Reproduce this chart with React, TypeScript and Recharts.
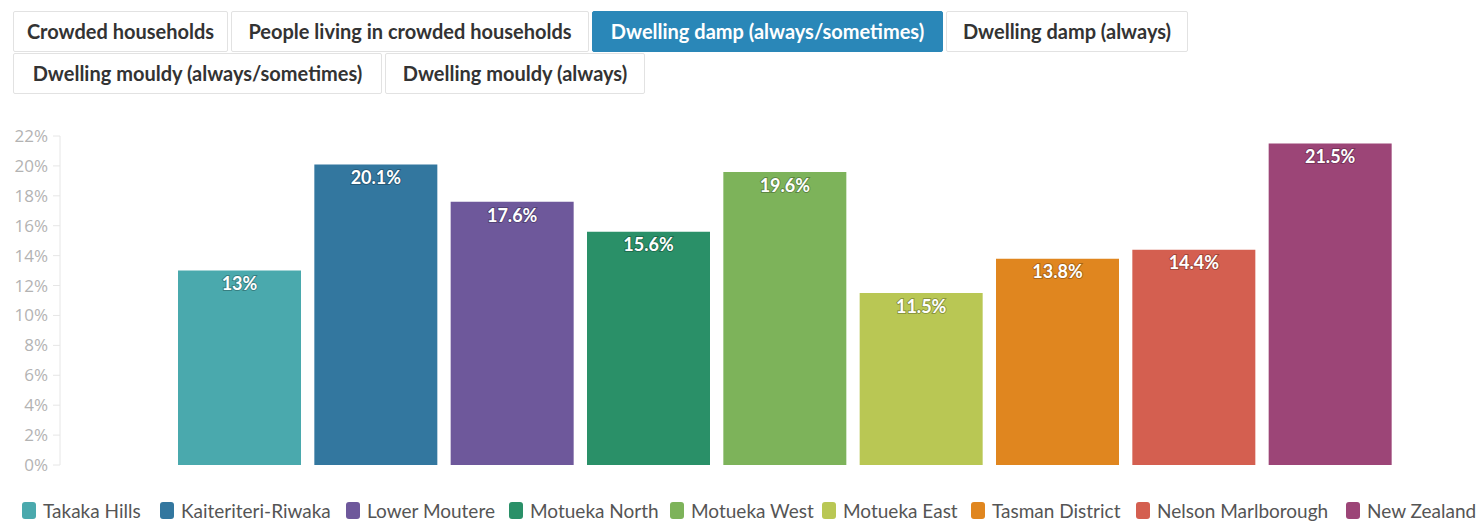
import React from 'react';
import { BarChart, Bar, XAxis, YAxis, Cell, LabelList } from 'recharts';

const areas = [
  'Takaka Hills',
  'Kaiteriteri-Riwaka',
  'Lower Moutere',
  'Motueka North',
  'Motueka West',
  'Motueka East',
  'Tasman District',
  'Nelson Marlborough',
  'New Zealand',
];
const dampShare = [13, 20.1, 17.6, 15.6, 19.6, 11.5, 13.8, 14.4, 21.5];
const colors = ['#4aa9ad', '#33779f', '#6e589b', '#2a9068', '#7db35a', '#b9c754', '#e0861f', '#d45f50', '#9c4577'];
const yTicks = [0, 2, 4, 6, 8, 10, 12, 14, 16, 18, 20, 22];

const tabRows = [
  ['Crowded households', 'People living in crowded households', 'Dwelling damp (always/sometimes)', 'Dwelling damp (always)'],
  ['Dwelling mouldy (always/sometimes)', 'Dwelling mouldy (always)'],
];
const tabWidths = [
  [215, 358, 351, 242],
  [369, 260],
];
const activeTab = 'Dwelling damp (always/sometimes)';
const legendWidths = [138, 186, 163, 161, 152, 149, 165, 210, 132];

const data = areas.map((name, i) => ({ name, value: dampShare[i] }));

const font = 'Lato, "Open Sans", sans-serif';

function Tabs() {
  return (
    <div style={{ position: 'absolute', left: 13, top: 11 }}>
      {tabRows.map((row, r) => (
        <div key={r} style={{ display: 'flex', gap: 3, marginBottom: 1 }}>
          {row.map((t, j) => {
            const on = t === activeTab;
            return (
              <div
                key={t}
                style={{
                  boxSizing: 'border-box',
                  width: tabWidths[r][j],
                  height: 41,
                  lineHeight: '39px',
                  textAlign: 'center',
                  border: '1px solid ' + (on ? '#2a87b8' : '#e2e2e2'),
                  background: on ? '#2a87b8' : '#fff',
                  color: on ? '#fff' : '#333',
                  fontFamily: font,
                  fontWeight: 700,
                  fontSize: 20,
                  borderRadius: 2,
                  whiteSpace: 'nowrap',
                }}
              >
                {t}
              </div>
            );
          })}
        </div>
      ))}
    </div>
  );
}

function LegendRow() {
  return (
    <div
      style={{
        position: 'absolute',
        left: 22,
        top: 499,
        display: 'flex',
        alignItems: 'center',
        fontFamily: font,
        fontSize: 19,
        color: '#555',
        whiteSpace: 'nowrap',
      }}
    >
      {areas.map((a, i) => (
        <div key={a} style={{ display: 'flex', alignItems: 'center', gap: 7, width: legendWidths[i] }}>
          <span style={{ width: 14, height: 17, borderRadius: 3, background: colors[i], display: 'inline-block' }} />
          <span>{a}</span>
        </div>
      ))}
    </div>
  );
}

export default function App() {
  return (
    <div style={{ position: 'absolute', left: 0, top: 0, width: 1478, height: 521, background: '#fff', overflow: 'hidden' }}>
      <Tabs />
      <div style={{ position: 'absolute', left: 0, top: 120 }}>
        <BarChart width={1478} height={360} data={data} margin={{ top: 16, right: 80, bottom: 15, left: 0 }}>
          <XAxis dataKey="name" hide padding={{ left: 111, right: 0 }} />
          <YAxis
            width={60}
            domain={[0, 22]}
            ticks={yTicks}
            tickFormatter={(v) => `${v}%`}
            axisLine={{ stroke: '#e6e6e6' }}
            tickLine={{ stroke: '#e6e6e6' }}
            tickSize={7}
            tickMargin={5}
            tick={{ fill: '#b3b3b3', fontSize: 17, fontFamily: '"Open Sans", sans-serif' }}
            interval={0}
          />
          <Bar dataKey="value" barSize={123} isAnimationActive={false}>
            {data.map((d, i) => (
              <Cell key={d.name} fill={colors[i]} />
            ))}
            <LabelList
              dataKey="value"
              position="insideTop"
              offset={7}
              formatter={(v: any) => `${v}%`}
              style={{
                fill: '#fff',
                fontWeight: 700,
                fontSize: 18,
                fontFamily: font,
                stroke: 'rgba(0,0,0,0.25)',
                strokeWidth: 2,
                paintOrder: 'stroke',
              }}
            />
          </Bar>
        </BarChart>
      </div>
      <LegendRow />
    </div>
  );
}
